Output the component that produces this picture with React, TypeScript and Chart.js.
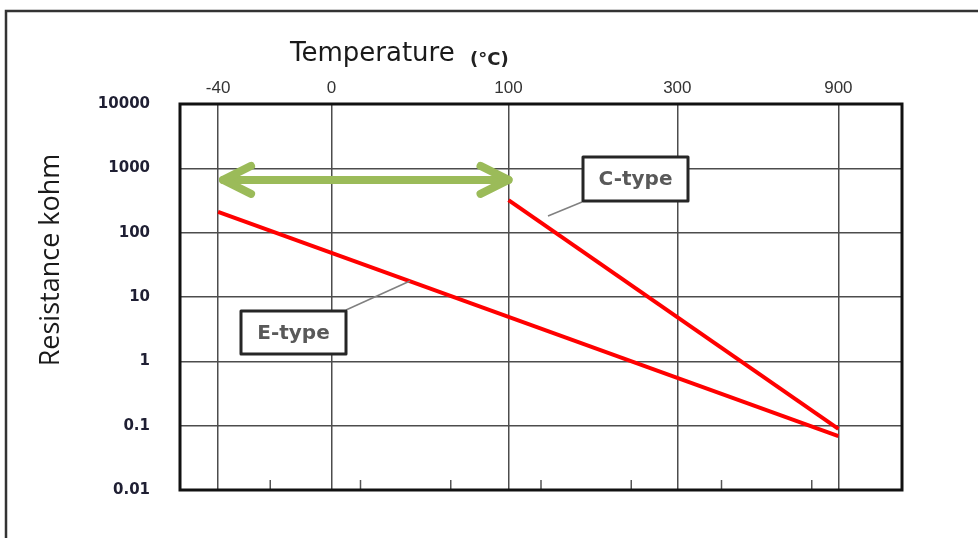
import React, { useEffect, useRef } from 'react';
import { Chart, registerables } from 'chart.js';

Chart.register(...registerables);

// ---- data ----
const majorTemps = [-40, 0, 100, 300, 900];
const majorTempLabels = ['-40', '0', '100', '300', '900'];
const minorInvT = [1.0, 1.5, 2.0, 2.5, 3.0, 3.5, 4.0]; // 1000 / K
const yTickValues = [10000, 1000, 100, 10, 1, 0.1, 0.01];
const yTickLabels = ['10000', '1000', '100', '10', '1', '0.1', '0.01'];
const eTypeTemps = [-40, 900];
const eTypeValues = [210, 0.069];
const cTypeTemps = [100, 900];
const cTypeValues = [320, 0.089];
const arrowTemps = [-40, 100];
const arrowValue = 660;
const xTitle = 'Temperature';
const xUnit = '(°C)';
const yTitle = 'Resistance kohm';
const eLabel = 'E-type';
const cLabel = 'C-type';

const toInvT = (t: number) => 1000 / (t + 273.15);

const decorPlugin = {
  id: 'decor',
  beforeDraw(chart: any) {
    const ctx = chart.ctx;
    ctx.save();
    ctx.fillStyle = '#ffffff';
    ctx.fillRect(0, 0, chart.width, chart.height);
    // outer frame
    ctx.strokeStyle = '#333333';
    ctx.lineWidth = 2.5;
    ctx.beginPath();
    ctx.moveTo(6, chart.height + 5);
    ctx.lineTo(6, 11);
    ctx.lineTo(chart.width + 5, 11);
    ctx.stroke();
    // titles
    ctx.fillStyle = '#1a1a1a';
    ctx.textBaseline = 'alphabetic';
    ctx.textAlign = 'left';
    ctx.font = '26px "DejaVu Sans"';
    ctx.fillText(xTitle, 290, 61);
    ctx.font = 'bold 18px "DejaVu Sans"';
    ctx.fillStyle = '#222222';
    ctx.fillText(xUnit, 470, 65);
    ctx.save();
    ctx.translate(51, 260);
    ctx.rotate(-Math.PI / 2);
    ctx.textAlign = 'center';
    ctx.textBaseline = 'middle';
    ctx.fillStyle = '#1a1a1a';
    ctx.font = '27px "Open Sans"';
    ctx.fillText(yTitle, 0, 0);
    ctx.restore();
    ctx.restore();
  },
  beforeDatasetsDraw(chart: any) {
    const { ctx, chartArea, scales } = chart;
    const { left, right, top, bottom } = chartArea;
    ctx.save();
    // minor ticks (inside, at bottom)
    ctx.strokeStyle = '#555555';
    ctx.lineWidth = 1.5;
    minorInvT.forEach((v) => {
      const px = scales.x.getPixelForValue(v);
      ctx.beginPath();
      ctx.moveTo(px, bottom);
      ctx.lineTo(px, bottom - 10);
      ctx.stroke();
    });
    // plot frame
    ctx.strokeStyle = '#111111';
    ctx.lineWidth = 3;
    ctx.strokeRect(left, top, right - left, bottom - top);
    ctx.restore();
  },
  afterDatasetsDraw(chart: any) {
    const { ctx, scales } = chart;
    ctx.save();
    // green double arrow
    const xa = scales.x.getPixelForValue(toInvT(arrowTemps[0])) + 5;
    const xb = scales.x.getPixelForValue(toInvT(arrowTemps[1]));
    const ya = scales.y.getPixelForValue(arrowValue);
    ctx.strokeStyle = '#9bbb59';
    ctx.lineWidth = 8;
    ctx.lineCap = 'round';
    ctx.lineJoin = 'round';
    ctx.beginPath();
    ctx.moveTo(xa, ya);
    ctx.lineTo(xb, ya);
    ctx.stroke();
    ctx.beginPath();
    ctx.moveTo(xa + 28, ya - 14);
    ctx.lineTo(xa, ya);
    ctx.lineTo(xa + 28, ya + 14);
    ctx.stroke();
    ctx.beginPath();
    ctx.moveTo(xb - 28, ya - 14);
    ctx.lineTo(xb, ya);
    ctx.lineTo(xb - 28, ya + 14);
    ctx.stroke();

    // callouts
    const callout = (text: string, bx: number, by: number, bw: number, bh: number, lx1: number, ly1: number, lx2: number, ly2: number) => {
      ctx.strokeStyle = '#808080';
      ctx.lineWidth = 1.5;
      ctx.lineCap = 'butt';
      ctx.beginPath();
      ctx.moveTo(lx1, ly1);
      ctx.lineTo(lx2, ly2);
      ctx.stroke();
      ctx.fillStyle = '#ffffff';
      ctx.fillRect(bx, by, bw, bh);
      ctx.strokeStyle = '#262626';
      ctx.lineWidth = 3;
      ctx.strokeRect(bx, by, bw, bh);
      ctx.fillStyle = '#595959';
      ctx.font = 'bold 20px "DejaVu Sans"';
      ctx.textAlign = 'center';
      ctx.textBaseline = 'middle';
      ctx.fillText(text, bx + bw / 2, by + bh / 2 + 1);
    };
    callout(cLabel, 583, 157, 105, 44, 582, 202, 548, 216);
    callout(eLabel, 241, 311, 105, 43, 346, 310, 410, 281);
    ctx.restore();
  },
};

export default function App() {
  const ref = useRef<HTMLCanvasElement | null>(null);

  useEffect(() => {
    if (!ref.current) return;
    const chart = new Chart(ref.current, {
      type: 'line',
      data: {
        datasets: [
          {
            label: eLabel,
            data: eTypeTemps.map((t, i) => ({ x: toInvT(t), y: eTypeValues[i] })),
            borderColor: '#ff0000',
            borderWidth: 4,
            pointRadius: 0,
            tension: 0,
          },
          {
            label: cLabel,
            data: cTypeTemps.map((t, i) => ({ x: toInvT(t), y: cTypeValues[i] })),
            borderColor: '#ff0000',
            borderWidth: 4,
            pointRadius: 0,
            tension: 0,
          },
        ],
      },
      options: {
        animation: false,
        responsive: false,
        devicePixelRatio: 1,
        layout: { padding: { left: 0, top: 0, right: 76, bottom: 48 } },
        plugins: { legend: { display: false }, tooltip: { enabled: false } },
        scales: {
          x: {
            type: 'linear',
            position: 'top',
            min: 0.5,
            max: 4.5,
            reverse: true,
            afterBuildTicks: (s: any) => {
              s.ticks = majorTemps.map((t) => ({ value: toInvT(t) }));
            },
            afterFit: (s: any) => {
              s.height = 104;
            },
            ticks: {
              autoSkip: false,
              maxRotation: 0,
              padding: 5,
              color: '#333333',
              font: { family: '"Liberation Sans"', size: 17 },
              callback: (_v: any, i: number) => majorTempLabels[i],
            },
            grid: { color: '#4d4d4d', lineWidth: 1.5, drawTicks: false },
            border: { display: false },
          },
          y: {
            type: 'logarithmic',
            min: 0.01,
            max: 10000,
            afterBuildTicks: (s: any) => {
              s.ticks = yTickValues.map((v) => ({ value: v }));
            },
            afterFit: (s: any) => {
              s.width = 180;
            },
            ticks: {
              autoSkip: false,
              padding: 30,
              color: '#1f1f33',
              font: { family: '"DejaVu Sans"', size: 15, weight: 'bold' },
              callback: (_v: any, i: number) => yTickLabels[i],
            },
            grid: { color: '#4d4d4d', lineWidth: 1.5, drawTicks: false },
            border: { display: false },
          },
        },
      } as any,
      plugins: [decorPlugin],
    });
    return () => chart.destroy();
  }, []);

  return (
    <div style={{ position: 'fixed', left: 0, top: 0, width: 978, height: 538, background: '#fff' }}>
      <canvas ref={ref} width={978} height={538} style={{ display: 'block' }} />
    </div>
  );
}
